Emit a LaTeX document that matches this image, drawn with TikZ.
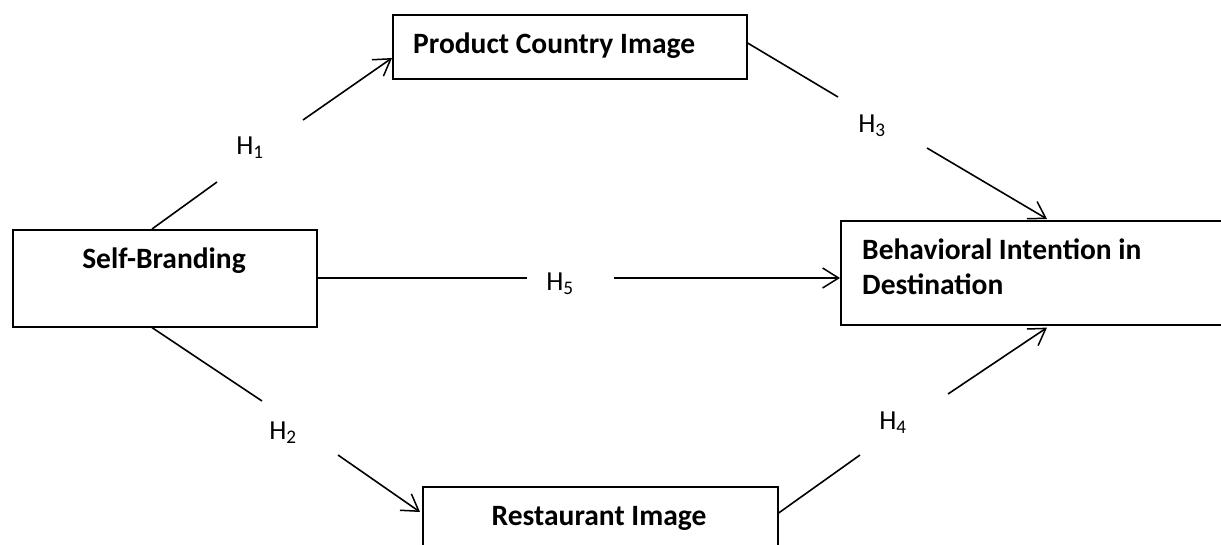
\documentclass[tikz,border=0pt]{standalone}
\usepackage{fontspec}
\setmainfont{Carlito}
\usetikzlibrary{arrows.meta,calc}
\tikzset{
  box/.style={draw, line width=1.6pt, inner sep=0pt, anchor=north west},
  boxtext/.style={font=\fontsize{29.5}{35}\selectfont\bfseries, inner sep=0pt},
  conn/.style={line width=1.6pt},
  arr/.style={line width=1.6pt, -{Straight Barb[length=16pt,width=20pt,line width=1.5pt]}},
  hlab/.style={font=\fontsize{27.5}{30}\selectfont, inner sep=0pt}
}
\begin{document}
\begin{tikzpicture}[x=1pt,y=-1pt]
\useasboundingbox (0,0) rectangle (1221,544);
% boxes
\node[box, minimum width=304pt, minimum height=97pt] (self) at (12,229) {};
\node[box, minimum width=354pt, minimum height=64pt] (prod) at (392,14) {};
\node[box, minimum width=390pt, minimum height=104pt] (beh) at (840,220) {};
\node[box, minimum width=355pt, minimum height=80pt] (rest) at (422,486) {};
% texts
\node[boxtext] (selft) at (164,261) {Self-Branding};
\node[boxtext, anchor=west] (prodt) at (413,46) {Product Country Image};
\node[boxtext, anchor=north west, align=left] (beht) at (862,239) {Behavioral Intention in\\Destination};
\node[boxtext] (restt) at (599,518) {Restaurant Image};
% labels
\node[hlab] (h1) at (250,148) {H\textsubscript{1}};
\node[hlab] (h2) at (283,433) {H\textsubscript{2}};
\node[hlab] (h3) at (872,126) {H\textsubscript{3}};
\node[hlab] (h4) at (893,423) {H\textsubscript{4}};
\node[hlab] (h5) at (560,284) {H\textsubscript{5}};
% free ends of split connectors
\coordinate (h1a) at (217,182);
\coordinate (h1b) at (303,120);
\coordinate (h2a) at (262,401);
\coordinate (h2b) at (338,455);
\coordinate (h3a) at (838,97);
\coordinate (h3b) at (927,148);
\coordinate (h4a) at (860,455);
\coordinate (h4b) at (948,394);
\coordinate (h5a) at (527,278);
\coordinate (h5b) at (614,278);
% H1
\draw[conn] ($(self.north west)+(140,0)$) -- (h1a);
\draw[arr] (h1b) -- ($(prod.north west)+(0,44)$);
% H2
\draw[conn] ($(self.south west)+(140,0)$) -- (h2a);
\draw[arr] (h2b) -- ($(rest.north west)+(-2,26)$);
% H3
\draw[conn] ($(prod.north east)+(0,29)$) -- (h3a);
\draw[arr] (h3b) -- ($(beh.north west)+(207,-1)$);
% H4
\draw[conn] ($(rest.north east)+(0,27)$) -- (h4a);
\draw[arr] (h4b) -- ($(beh.south west)+(207,2)$);
% H5
\draw[conn] ($(self.north east)+(0,49)$) -- (h5a);
\draw[arr] (h5b) -- ($(beh.north west)+(0,58)$);
\end{tikzpicture}
\end{document}
